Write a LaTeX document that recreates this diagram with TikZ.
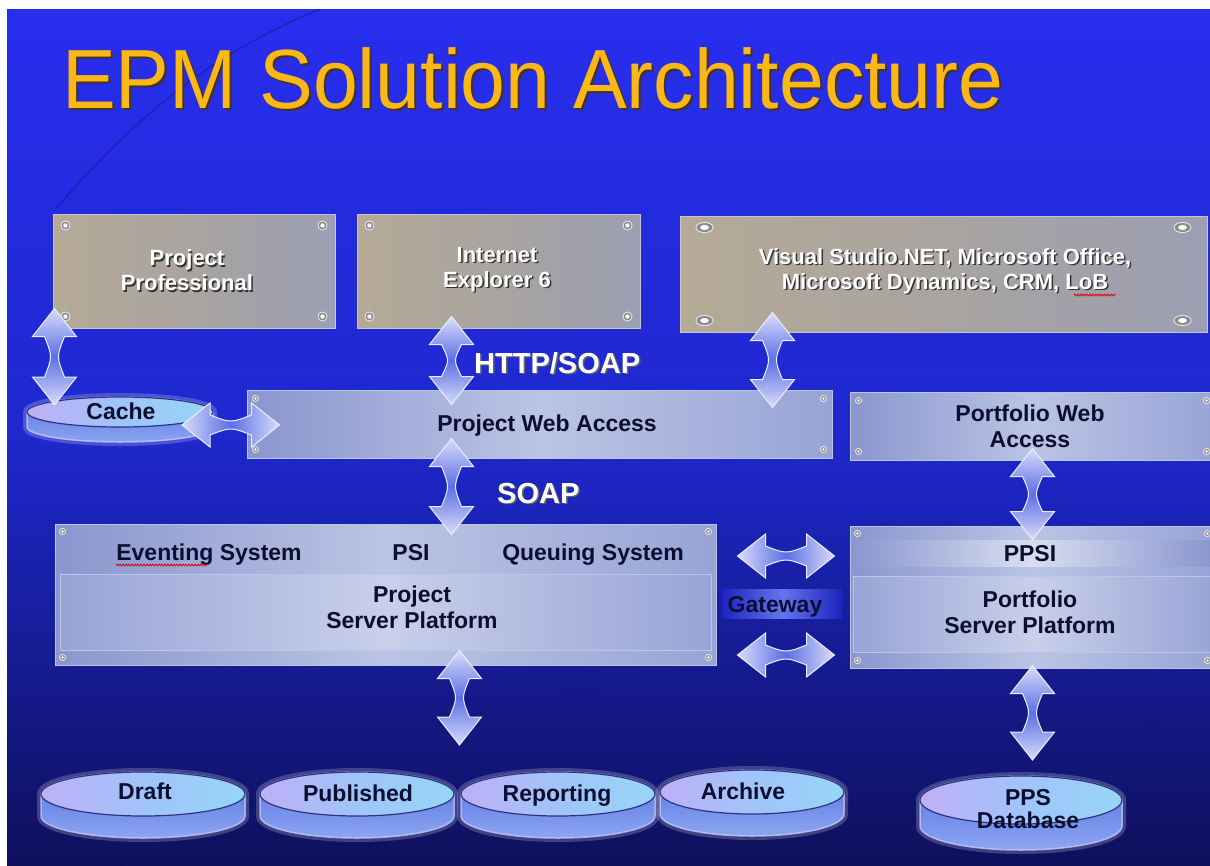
\documentclass[tikz,border=0pt]{standalone}
\usepackage{fontspec}
\setmainfont{Liberation Sans}
\usetikzlibrary{calc,decorations.pathmorphing}

\definecolor{bgtop}{RGB}{40,46,238}
\definecolor{bgmid}{RGB}{30,40,205}
\definecolor{bgbot}{RGB}{14,16,92}
\definecolor{titleor}{RGB}{250,184,22}
\definecolor{titlesh}{RGB}{70,50,30}
\definecolor{navy}{RGB}{12,14,48}
\definecolor{tanA}{RGB}{182,170,150}
\definecolor{tanM}{RGB}{168,164,160}
\definecolor{tanB}{RGB}{156,158,178}
\definecolor{tanEdge}{RGB}{200,198,205}
\definecolor{steelA}{RGB}{138,150,206}
\definecolor{steelB}{RGB}{186,196,228}
\definecolor{steelC}{RGB}{152,164,214}
\definecolor{steelEdge}{RGB}{190,198,232}
\definecolor{arrlight}{RGB}{216,220,252}
\definecolor{arrdark}{RGB}{92,112,226}
\definecolor{arrglow}{RGB}{235,238,255}
\definecolor{sideA}{RGB}{84,112,224}
\definecolor{sideB}{RGB}{140,166,242}
\definecolor{topA}{RGB}{190,176,246}
\definecolor{topM}{RGB}{160,196,250}
\definecolor{topB}{RGB}{150,214,246}
\definecolor{rim}{RGB}{46,50,128}
\definecolor{gwband}{RGB}{100,116,236}
\definecolor{gwside}{RGB}{28,36,192}
\definecolor{swooshc}{RGB}{18,22,130}

\tikzset{
  tanbox/.style={rectangle, draw=tanEdge, line width=1pt, left color=tanA, right color=tanB, middle color=tanM, inner sep=0pt},
  steelbox/.style={rectangle, draw=steelEdge, line width=1pt, left color=steelA, right color=steelC, middle color=steelB, inner sep=0pt},
  bandbox/.style={rectangle, draw=steelEdge, line width=1pt, left color=steelC, right color=steelC, middle color=steelB!80!white, inner sep=0pt},
  wlabel/.style={font=\bfseries\fontsize{22}{25}\selectfont, text=white, align=center, inner sep=0pt},
  dlabel/.style={font=\bfseries\fontsize{23}{26}\selectfont, text=navy, align=center, inner sep=0pt},
  biglabel/.style={font=\bfseries\fontsize{29}{32}\selectfont, text=white, inner sep=0pt},
  rivetring/.style={fill=black!45},
  rivetcore/.style={fill=white},
  swoosh/.style={draw=swooshc, line width=1.5pt, opacity=.45},
  squiggle/.style={draw=red!85!black, line width=.8pt, decorate, decoration={snake, amplitude=.9pt, segment length=3pt}},
}

% text with a drop shadow, in one box: #1 text, #2 offset, #3 shadow colour
\newcommand\shadowed[3]{\makebox[0pt][l]{\raisebox{-#2}{\hspace*{#2}\textcolor{#3}{#1}}}#1}

% vertical double block arrow: #1 top tip, #2 bottom tip
\newcommand\varrow[2]{%
  \shade[top color=arrlight, bottom color=arrlight, middle color=arrdark, draw=arrglow, line width=1pt]
  let \p1=(#1), \p2=(#2) in
  (\x1,\y1) -- ({\x1+22pt},{\y1-28pt}) -- ({\x1+10pt},{\y1-28pt})
  .. controls ({\x1+2pt},{0.5*\y1+0.5*\y2}) .. ({\x1+10pt},{\y2+28pt})
  -- ({\x1+22pt},{\y2+28pt}) -- (\x1,\y2) -- ({\x1-22pt},{\y2+28pt}) -- ({\x1-10pt},{\y2+28pt})
  .. controls ({\x1-2pt},{0.5*\y1+0.5*\y2}) .. ({\x1-10pt},{\y1-28pt})
  -- ({\x1-22pt},{\y1-28pt}) -- cycle;}
% horizontal double block arrow: #1 left tip, #2 right tip
\newcommand\harrow[2]{%
  \shade[left color=arrlight, right color=arrlight, middle color=arrdark, draw=arrglow, line width=1pt]
  let \p1=(#1), \p2=(#2) in
  (\x1,\y1) -- ({\x1+28pt},{\y1+22pt}) -- ({\x1+28pt},{\y1+10pt})
  .. controls ({0.5*\x1+0.5*\x2},{\y1+2pt}) .. ({\x2-28pt},{\y1+10pt})
  -- ({\x2-28pt},{\y1+22pt}) -- (\x2,\y1) -- ({\x2-28pt},{\y1-22pt}) -- ({\x2-28pt},{\y1-10pt})
  .. controls ({0.5*\x1+0.5*\x2},{\y1-2pt}) .. ({\x1+28pt},{\y1-10pt})
  -- ({\x1+28pt},{\y1-22pt}) -- cycle;}
% disk: #1 centre coordinate, #2 rx, #3 ry, #4 thickness
\newcommand\disk[4]{%
  \path[draw=white, line width=8pt, opacity=.2] ($(#1)+(-#2,0)$) -- ++(0,#4)
    arc[start angle=180,end angle=360,x radius=#2pt,y radius=#3pt] -- ++(0,-#4)
    arc[start angle=0,end angle=180,x radius=#2pt,y radius=#3pt] -- cycle;
  \shade[top color=sideA, bottom color=sideB, draw=white!80!blue, line width=1.5pt, draw opacity=.75] ($(#1)+(-#2,0)$) -- ++(0,#4)
    arc[start angle=180,end angle=360,x radius=#2pt,y radius=#3pt] -- ++(0,-#4)
    arc[start angle=0,end angle=180,x radius=#2pt,y radius=#3pt] -- cycle;
  \shade[left color=topA, right color=topB, middle color=topM, draw=rim, line width=1.2pt]
    (#1) ellipse [x radius=#2pt, y radius=#3pt];}
% rivets at the four corners of a node: #1 node, #2 dx, #3 dy, #4 rx, #5 ry
\newcommand\rivets[5]{%
  \foreach \a/\sx/\sy in {north west/1/-1, north east/-1/-1, south west/1/1, south east/-1/1}{
    \fill[white!85!gray] ([xshift=\sx*#2pt, yshift=\sy*#3pt]#1.\a) ellipse [x radius=#4pt+1pt, y radius=#5pt+1pt];
    \fill[rivetring] ([xshift=\sx*#2pt, yshift=\sy*#3pt]#1.\a) ellipse [x radius=#4pt, y radius=#5pt];
    \fill[rivetcore] ([xshift=\sx*#2pt, yshift=\sy*#3pt]#1.\a) ellipse [x radius=0.55*#4pt, y radius=0.55*#5pt];
  }}

\begin{document}
\begin{tikzpicture}[x=1pt, y=-1pt]
\useasboundingbox (0,0) rectangle (1210,865);
\fill[white] (0,0) rectangle (1210,865);
\begin{scope}
\clip (7,9) rectangle (1210,865);
% background
\shade[top color=bgtop, bottom color=bgbot, middle color=bgmid] (7,9) rectangle (1210,865);
\path[swoosh] (55,210) .. controls (140,110) and (220,50) .. (320,9);
\path[swoosh] (120,870) .. controls (450,640) and (950,630) .. (1215,745);

% title
\node[anchor=base west, inner sep=0pt, font=\fontsize{84}{90}\selectfont, text=titleor] (title) at (62,108)
  {\shadowed{\scalebox{0.96}[1]{EPM Solution Architecture}}{2pt}{titlesh}};

% top client boxes
\node[tanbox, minimum width=282pt, minimum height=114pt] (pp) at (194,271) {};
\node[tanbox, minimum width=283pt, minimum height=114pt] (ie) at (498.5,271) {};
\node[tanbox, minimum width=527pt, minimum height=116pt] (vs) at (943.5,274) {};
\rivets{pp}{13}{12}{4}{4}
\rivets{ie}{13}{12}{4}{4}
\rivets{vs}{25}{12}{8}{4.5}
\node[wlabel] (ppl) at (187,271) {\shadowed{Project}{1.5pt}{black!80}\\\shadowed{Professional}{1.5pt}{black!80}};
\node[wlabel] (iel) at (497,270) {\shadowed{Internet}{1.5pt}{black!80}\\\shadowed{Explorer 6}{1.5pt}{black!80}};
\node[wlabel] (vsl) at (945,272) {\shadowed{Visual Studio.NET, Microsoft Office,}{1.5pt}{black!80}\\\shadowed{Microsoft Dynamics, CRM, LoB}{1.5pt}{black!80}};
\path[squiggle] (1074,295) -- (1116,295);

% web access
\node[steelbox, minimum width=585pt, minimum height=68pt] (pwa) at (539.5,424) {};
\node[steelbox, minimum width=365pt, minimum height=68pt] (pfwa) at (1032.5,426) {};
\rivets{pwa}{9}{9}{2.5}{2.5}
\rivets{pfwa}{9}{9}{2.5}{2.5}
\node[dlabel, anchor=base] (pwal) at (547,431) {Project Web Access};
\node[dlabel] (pfwal) at (1030,426) {Portfolio Web\\Access};

% server platforms
\node[steelbox, minimum width=661pt, minimum height=141pt] (psp) at (385.5,594.5) {};
\node[bandbox, minimum width=651pt, minimum height=76pt] (pspin) at (385.5,612) {};
\rivets{psp}{8}{8}{2.5}{2.5}
\node[dlabel, anchor=base] (evt) at (209,560) {Eventing System};
\node[dlabel, anchor=base] (psi) at (411,560) {PSI};
\node[dlabel, anchor=base] (que) at (593,560) {Queuing System};
\path[squiggle] (116,565) -- (208,565);
\node[dlabel] (pspl) at (412,607) {Project\\Server Platform};

\node[steelbox, minimum width=365pt, minimum height=142pt] (pfsp) at (1032.5,597) {};
\shade[left color=steelA, right color=steelA, middle color=steelB!55!white] (852,540) rectangle (1212,566);
\node[bandbox, minimum width=362pt, minimum height=76pt] (pfspin) at (1034,614) {};
\rivets{pfsp}{8}{8}{2.5}{2.5}
\node[dlabel, anchor=base] (ppsi) at (1030,561) {PPSI};
\node[dlabel] (pfspl) at (1030,612) {Portfolio\\Server Platform};

% gateway
\shade[left color=gwside, right color=gwside, middle color=gwband] (722,589) rectangle (842,618);
\node[dlabel, anchor=base] (gw) at (775,612) {Gateway};

% databases
\coordinate (cachec) at (120,412);
\coordinate (draftc) at (143,794);
\coordinate (pubc) at (357,794);
\coordinate (repc) at (558,794);
\coordinate (arcc) at (752,792);
\coordinate (ppsc) at (1021,800);
\disk{cachec}{93}{15}{15}
\disk{draftc}{102}{22}{22}
\disk{pubc}{97}{22}{22}
\disk{repc}{97}{22}{22}
\disk{arcc}{92}{22}{22}
\disk{ppsc}{101}{24}{26}
\node[dlabel, anchor=base] (cache) at (121,419) {Cache};
\node[dlabel, anchor=base] (draft) at (145,799) {Draft};
\node[dlabel, anchor=base] (pub) at (358,801) {Published};
\node[dlabel, anchor=base] (rep) at (557,801) {Reporting};
\node[dlabel, anchor=base] (arc) at (743,799) {Archive};
\node[dlabel, font=\bfseries\fontsize{23}{23}\selectfont] (pps) at (1028,809) {PPS\\Database};
\coordinate (dbhub) at (460,745);

% connectors
\varrow{[xshift=2pt,yshift=20pt]pp.south west}{$(cachec)+(-65,-7)$}
\harrow{$(cachec)+(62,13)$}{[xshift=33pt]pwa.west}
\varrow{[xshift=95pt,yshift=12pt]ie.south west}{[xshift=205pt,yshift=-15pt]pwa.north west}
\varrow{[xshift=93pt,yshift=20pt]vs.south west}{[yshift=-18pt]pwa.north east}
\varrow{[xshift=205pt,yshift=20pt]pwa.south west}{[xshift=397pt,yshift=-11pt]psp.north west}
\varrow{[yshift=12pt]pfwa.south}{[yshift=-14pt]pfsp.north}
\harrow{[xshift=21pt,yshift=38.5pt]psp.east}{[xshift=-15pt]pfsp.west}
\harrow{[xshift=21pt,yshift=-60.5pt]psp.east}{[xshift=-15pt]pfsp.west}
\varrow{[xshift=405pt,yshift=15pt]psp.south west}{dbhub}
\varrow{[yshift=3pt]pfsp.south}{$(ppsc)+(0,-40)$}

% protocol labels
\node[biglabel, anchor=base west] (http) at (474,373) {\shadowed{HTTP/SOAP}{1.5pt}{black!60}};
\node[biglabel, anchor=base west] (soap) at (497,503) {\shadowed{SOAP}{1.5pt}{black!60}};
\end{scope}
\end{tikzpicture}
\end{document}
